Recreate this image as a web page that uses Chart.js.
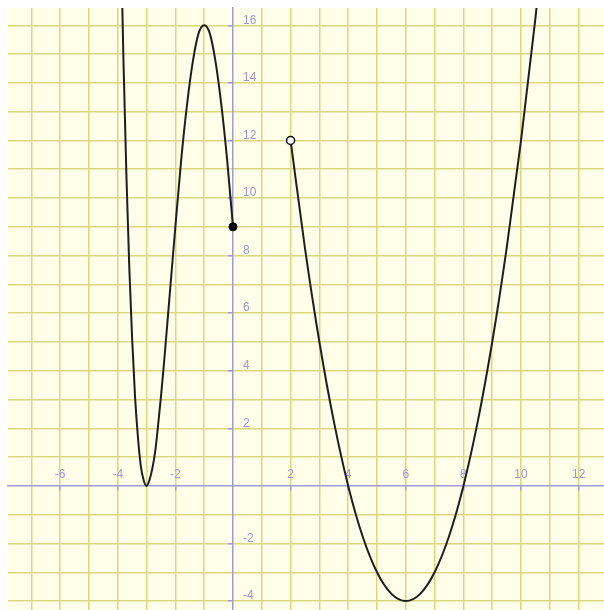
<!DOCTYPE html>
<html>
<head>
<meta charset="utf-8">
<script src="https://cdn.jsdelivr.net/npm/chart.js@4"></script>
<style>
  body { margin: 0; background: #ffffff; }
  canvas { display: block; }
</style>
</head>
<body>
<canvas id="chart" width="604" height="610"></canvas>
<script>
// piece for x <= 0 (ends in a filled dot at 0,9)
const leftX = [-3.9, -3.8, -3.7, -3.6, -3.5, -3.4, -3.3, -3.2, -3.1, -3.0, -2.9, -2.8, -2.7, -2.6, -2.5, -2.4, -2.2, -2.0, -1.8, -1.6, -1.4, -1.2, -1.0, -0.8, -0.6, -0.4, -0.2, 0]
const leftY = [19.4, 14.7, 10.8, 7.6, 5.1, 3.1, 1.7, 0.7, 0.2, 0, 0.2, 0.6, 1.2, 2.1, 3.1, 4.2, 6.6, 9.0, 11.3, 13.2, 14.7, 15.7, 16.0, 15.7, 14.7, 13.2, 11.3, 9.0]

// piece for x > 2 (starts at an open dot at 2,12)
const rightX = [2, 2.5, 3, 3.5, 4, 4.5, 5, 5.5, 6, 6.5, 7, 7.5, 8, 8.5, 9, 9.5, 10, 10.5, 11]
const rightY = [12, 8.25, 5, 2.25, 0, -1.75, -3, -3.75, -4, -3.75, -3, -1.75, 0, 2.25, 5, 8.25, 12, 16.25, 21]

const closedDot = [{ x: 0, y: 9 }]
const openDot = [{ x: 2, y: 12 }]

const xTickLabels = [-6, -4, -2, 2, 4, 6, 8, 10, 12]
const yTickLabels = [-4, -2, 2, 4, 6, 8, 10, 12, 14, 16]

const paper = '#fffee9'
const gridYellow = '#ded67e'
const axisBlue = '#9d9dd6'
const labelBlue = '#9a9acf'

const toPoints = (xs, ys) => xs.map((x, i) => ({ x: x, y: ys[i] }))

const paperPlugin = {
  id: 'paper',
  beforeDraw(chart) {
    const { ctx, chartArea } = chart
    ctx.save()
    ctx.fillStyle = paper
    ctx.fillRect(chartArea.left, chartArea.top, chartArea.right - chartArea.left, chartArea.bottom - chartArea.top)
    ctx.restore()
  }
}

// y labels sit to the right of the y axis, which Chart.js can't do for a centred axis
const yLabelPlugin = {
  id: 'yLabels',
  beforeDatasetsDraw(chart) {
    const { ctx } = chart
    const xs = chart.scales.x
    const ys = chart.scales.y
    const x0 = xs.getPixelForValue(0)
    ctx.save()
    ctx.font = '12px "Liberation Sans", Arial, sans-serif'
    ctx.fillStyle = labelBlue
    ctx.textAlign = 'left'
    ctx.textBaseline = 'middle'
    yTickLabels.forEach(v => {
      ctx.fillText(String(v), x0 + 10, ys.getPixelForValue(v) - 5)
    })
    ctx.restore()
  }
}

const gridColor = c => (c.tick && c.tick.value === 0) ? 'rgba(0,0,0,0)' : gridYellow

const context = document.getElementById('chart').getContext('2d')

const chart = new Chart(context, {
  type: 'scatter',
  data: {
    datasets: [{
      data: closedDot,
      pointRadius: 4,
      pointBackgroundColor: '#000000',
      pointBorderColor: '#000000',
      pointBorderWidth: 1,
      clip: 0
    }, {
      data: openDot,
      pointRadius: 4,
      pointBackgroundColor: '#ffffff',
      pointBorderColor: '#111111',
      pointBorderWidth: 1.5,
      clip: 0
    }, {
      data: toPoints(leftX, leftY),
      showLine: true,
      borderColor: '#1e1e1e',
      borderWidth: 2,
      pointRadius: 0,
      cubicInterpolationMode: 'monotone',
      clip: 0
    }, {
      data: toPoints(rightX, rightY),
      showLine: true,
      borderColor: '#1e1e1e',
      borderWidth: 2,
      pointRadius: 0,
      cubicInterpolationMode: 'monotone',
      clip: 0
    }]
  },
  options: {
    responsive: false,
    animation: false,
    layout: { autoPadding: false, padding: { left: 8, top: 8, right: 0, bottom: 0 } },
    plugins: {
      legend: { display: false },
      tooltip: { enabled: false }
    },
    scales: {
      x: {
        type: 'linear',
        min: -7.81,
        max: 12.88,
        position: { y: 0 },
        afterFit: scale => { scale.height = 0 },
        border: { color: axisBlue, width: 1.5 },
        grid: {
          color: gridColor,
          lineWidth: 1.5,
          tickLength: 4,
          tickColor: c => xTickLabels.includes(c.tick && c.tick.value) ? axisBlue : 'rgba(0,0,0,0)'
        },
        ticks: {
          stepSize: 1,
          includeBounds: false,
          autoSkip: false,
          maxRotation: 0,
          padding: -22,
          color: labelBlue,
          font: { family: '"Liberation Sans", Arial, sans-serif', size: 12 },
          callback: v => xTickLabels.includes(v) ? String(v) : ''
        }
      },
      y: {
        type: 'linear',
        min: -4.31,
        max: 16.6,
        position: { x: 0 },
        afterFit: scale => { scale.width = 0 },
        border: { color: axisBlue, width: 1.5 },
        grid: {
          color: gridColor,
          lineWidth: 1.5,
          tickLength: 4,
          tickColor: c => yTickLabels.includes(c.tick && c.tick.value) ? axisBlue : 'rgba(0,0,0,0)'
        },
        ticks: {
          stepSize: 1,
          includeBounds: false,
          display: false
        }
      }
    }
  },
  plugins: [paperPlugin, yLabelPlugin]
})
</script>
</body>
</html>
